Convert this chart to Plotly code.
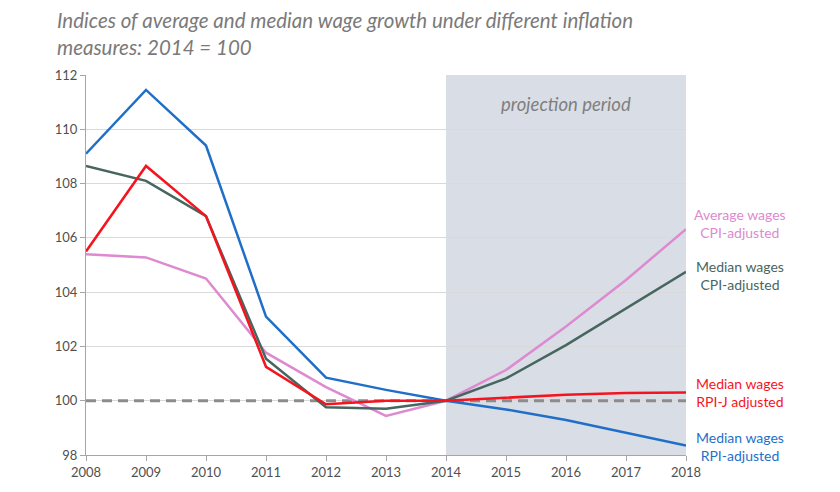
import plotly.graph_objects as go

years = [2008, 2009, 2010, 2011, 2012, 2013, 2014, 2015, 2016, 2017, 2018]
median_rpi = [109.1, 111.45, 109.4, 103.1, 100.85, 100.4, 100.0, 99.68, 99.29, 98.82, 98.35]
median_rpij = [105.5, 108.65, 106.8, 101.25, 99.87, 100.0, 100.0, 100.12, 100.22, 100.28, 100.3]
median_cpi = [108.65, 108.1, 106.8, 101.55, 99.76, 99.7, 100.0, 100.82, 102.05, 103.4, 104.75]
average_cpi = [105.4, 105.28, 104.5, 101.77, 100.5, 99.44, 100.0, 101.13, 102.73, 104.45, 106.32]
base_value = 100
projection_start, projection_end = 2014, 2018

series = [
    ("Average wages<br>CPI-adjusted", average_cpi, "#dd8ad0", 106.53),
    ("Median wages<br>CPI-adjusted", median_cpi, "#46665f", 104.63),
    ("Median wages<br>RPI-adjusted", median_rpi, "#1f6fc8", 98.31),
    ("Median wages<br>RPI-J adjusted", median_rpij, "#f5141e", 100.3),
]

# page body has an 8px margin: figure is sized/positioned to compensate
W, H = 832, 484
fig = go.Figure()
fig.add_shape(type="rect", xref="x", yref="paper", x0=projection_start, x1=projection_end,
              y0=0, y1=1, fillcolor="#d9dee6", line_width=0, layer="below")

fig.add_trace(go.Scatter(x=[years[0], years[-1]], y=[base_value, base_value], mode="lines",
                         line=dict(color="#8c8c8c", width=3, dash="10px,6px"),
                         showlegend=False, hoverinfo="skip"))

for name, vals, col, ly in series:
    fig.add_trace(go.Scatter(x=years, y=vals, mode="lines", name=name,
                             line=dict(color=col, width=2.5), showlegend=False))
    fig.add_annotation(x=1.0, xref="paper", xshift=54, y=ly, yref="y",
                       text=name, showarrow=False, xanchor="center",
                       font=dict(family="Lato", size=14, color=col))

fig.add_annotation(x=(projection_start + projection_end) / 2, y=110.95,
                   text="<i>projection period</i>", showarrow=False,
                   font=dict(family="Lato", size=18.5, color="#7f7f7f"))

fig.update_layout(
    width=W, height=H,
    margin=dict(l=78, r=154, t=67, b=37),
    paper_bgcolor="white", plot_bgcolor="white",
    title=dict(text="<i>Indices of average and median wage growth under different inflation<br>measures: 2014 = 100</i>",
               x=49 / W, xanchor="left", y=1 - 20 / H, yanchor="top",
               font=dict(family="Lato", size=20.5, color="#7a7a7a")),
)
fig.update_xaxes(range=[2008, 2018], tickmode="array", tickvals=years,
                 ticktext=[str(y) for y in years], showgrid=False,
                 showline=True, linecolor="#a6a6a6", linewidth=1,
                 ticks="outside", ticklen=5, tickcolor="#a6a6a6",
                 tickfont=dict(family="Lato", size=13, color="#505050"))
fig.update_yaxes(range=[98, 112], dtick=2, showgrid=True, gridcolor="#d9d9d9",
                 showline=True, linecolor="#a6a6a6", linewidth=1,
                 ticks="outside", ticklen=5, tickcolor="#a6a6a6", zeroline=False,
                 tickfont=dict(family="Lato", size=13, color="#505050"))

fig.write_html("out.html")
